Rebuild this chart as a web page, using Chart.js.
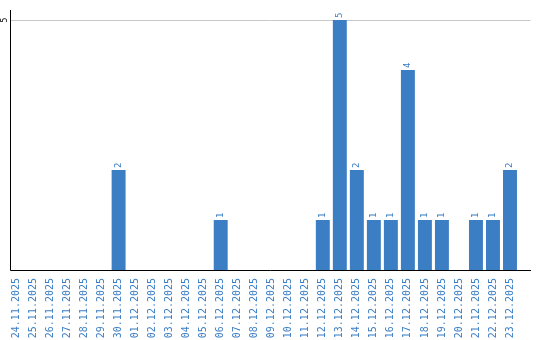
<!DOCTYPE html>
<html>
<head>
<meta charset="utf-8">
<script src="https://cdn.jsdelivr.net/npm/chart.js@4/dist/chart.umd.min.js"></script>
<style>
  html, body { margin: 0; padding: 0; background: #fff; }
  #wrap { width: 540px; height: 340px; position: relative; }
</style>
</head>
<body>
<div id="wrap"><canvas id="chart"></canvas></div>
<script>
const DATES = [
  "24.11.2025", "25.11.2025", "26.11.2025", "27.11.2025", "28.11.2025",
  "29.11.2025", "30.11.2025", "01.12.2025", "02.12.2025", "03.12.2025",
  "04.12.2025", "05.12.2025", "06.12.2025", "07.12.2025", "08.12.2025",
  "09.12.2025", "10.12.2025", "11.12.2025", "12.12.2025", "13.12.2025",
  "14.12.2025", "15.12.2025", "16.12.2025", "17.12.2025", "18.12.2025",
  "19.12.2025", "20.12.2025", "21.12.2025", "22.12.2025", "23.12.2025",
];
const COUNTS = [
  0, 0, 0, 0, 0,
  0, 2, 0, 0, 0,
  0, 0, 1, 0, 0,
  0, 0, 0, 1, 5,
  2, 1, 1, 4, 1,
  1, 0, 1, 1, 2,
];
const Y_TICKS = [5];

const BLUE = "#3b7ec4";

// axis lines, grid line at 5, y tick label and value labels
const decorations = {
  id: "decorations",
  beforeDatasetsDraw(chart) {
    const { ctx, chartArea, scales } = chart;
    const axisX = chartArea.left + 2.5;
    ctx.save();
    ctx.strokeStyle = "#c8c8c8";
    ctx.lineWidth = 1;
    Y_TICKS.forEach((v) => {
      const y = Math.round(scales.y.getPixelForValue(v)) + 0.5;
      ctx.beginPath();
      ctx.moveTo(axisX, y);
      ctx.lineTo(chartArea.right + 12, y);
      ctx.stroke();
    });
    ctx.restore();
  },
  afterDatasetsDraw(chart) {
    const { ctx, chartArea, scales } = chart;
    const axisX = chartArea.left + 2.5;
    const bottom = Math.round(chartArea.bottom) + 0.5;
    ctx.save();
    ctx.strokeStyle = "#000";
    ctx.lineWidth = 1;
    ctx.beginPath();
    ctx.moveTo(axisX, chartArea.top - 10);
    ctx.lineTo(axisX, bottom);
    ctx.lineTo(chartArea.right + 12.5, bottom);
    ctx.stroke();

    ctx.font = "8px 'DejaVu Sans Mono'";
    ctx.fillStyle = "#000";
    ctx.textAlign = "center";
    ctx.textBaseline = "middle";
    Y_TICKS.forEach((v) => {
      ctx.save();
      ctx.translate(5, scales.y.getPixelForValue(v));
      ctx.rotate(-Math.PI / 2);
      ctx.fillText(String(v), 0, 0);
      ctx.restore();
    });

    ctx.font = "9px 'DejaVu Sans Mono'";
    ctx.fillStyle = BLUE;
    ctx.textAlign = "left";
    const meta = chart.getDatasetMeta(0);
    meta.data.forEach((bar, i) => {
      const v = COUNTS[i];
      if (!v) return;
      ctx.save();
      ctx.translate(bar.x, bar.y - 2);
      ctx.rotate(-Math.PI / 2);
      ctx.fillText(String(v), 0, 0);
      ctx.restore();
    });
    ctx.restore();
  },
};

new Chart(document.getElementById("chart"), {
  type: "bar",
  data: {
    labels: DATES,
    datasets: [
      {
        data: COUNTS,
        backgroundColor: BLUE,
        borderWidth: 0,
        categoryPercentage: 1,
        barPercentage: 0.82,
      },
    ],
  },
  options: {
    responsive: true,
    maintainAspectRatio: false,
    animation: false,
    layout: { padding: { top: 20, right: 21.5, left: 0, bottom: 0 } },
    plugins: {
      legend: { display: false },
      tooltip: { enabled: false },
    },
    scales: {
      x: {
        grid: { display: false, drawTicks: false },
        border: { display: false },
        ticks: {
          autoSkip: false,
          minRotation: 90,
          maxRotation: 90,
          padding: 8,
          color: BLUE,
          font: { family: "'DejaVu Sans Mono'", size: 10 },
        },
        afterFit: (s) => { s.height = 70; },
      },
      y: {
        min: 0,
        max: 5,
        grid: { display: false, drawTicks: false },
        border: { display: false },
        ticks: { display: false },
        afterFit: (s) => { s.width = 8; },
      },
    },
  },
  plugins: [decorations],
});
</script>
</body>
</html>
